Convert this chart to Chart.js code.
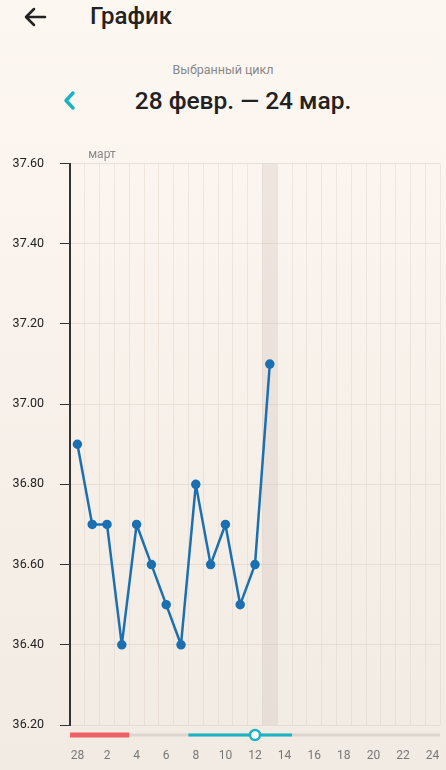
<!DOCTYPE html>
<html lang="ru">
<head>
<meta charset="utf-8">
<script src="https://cdn.jsdelivr.net/npm/chart.js@4/dist/chart.umd.min.js"></script>
<style>
  html, body { margin: 0; padding: 0; }
  body {
    width: 446px; height: 770px; overflow: hidden; position: relative;
    font-family: Roboto, "Noto Sans", sans-serif;
    background: linear-gradient(#fdf7f2 0%, #fbf4ee 30%, #f6efe8 65%, #f2ebe4 100%);
  }
  .title { position: absolute; left: 90px; top: 2px; font-size: 24px; font-weight: 500; color: #222; }
  .sub { position: absolute; left: 0; width: 446px; top: 62px; text-align: center; font-size: 12.5px; color: #888; }
  .range { position: absolute; left: 20px; width: 446px; top: 86px; text-align: center; font-size: 24.5px; font-weight: 500; color: #222; }
  svg { position: absolute; left: 0; top: 0; }
  #wrap { position: absolute; left: 0; top: 140px; width: 446px; height: 630px; }
</style>
</head>
<body>
<svg width="446" height="130">
  <path d="M45 17 H26 M34 9 L26 17 L34 25" fill="none" stroke="#222" stroke-width="2.5" stroke-linecap="round" stroke-linejoin="round"/>
  <path d="M73 93 L66 100.5 L73 108" fill="none" stroke="#1ab3c4" stroke-width="3.5" stroke-linecap="round" stroke-linejoin="round"/>
</svg>
<div class="title">График</div>
<div class="sub">Выбранный цикл</div>
<div class="range">28 февр. — 24 мар.</div>
<div id="wrap"><canvas id="tempChart"></canvas></div>
<script>
// дни цикла 28 февр. - 24 мар.
var days = ["28", "1", "2", "3", "4", "5", "6", "7", "8", "9", "10", "11", "12",
  "13", "14", "15", "16", "17", "18", "19", "20", "21", "22", "23", "24"];
var temps = [36.9, 36.7, 36.7, 36.4, 36.7, 36.6, 36.5, 36.4, 36.8, 36.6, 36.7, 36.5, 36.6, 37.1];
var yTicks = [36.2, 36.4, 36.6, 36.8, 37.0, 37.2, 37.4, 37.6];
var periodDays = ["28", "1", "2", "3"];
var fertileDays = ["8", "9", "10", "11", "12", "13", "14"];
var ovulationDay = "12";
var todayDay = "13";
var monthLabel = "март";

var extras = {
  id: "extras",
  beforeDatasetsDraw: function(chart) {
    var ctx = chart.ctx;
    var x = chart.scales.x;
    var area = chart.chartArea;
    var w = x.getPixelForValue(1) - x.getPixelForValue(0);
    var cx = x.getPixelForValue(days.indexOf(todayDay));
    ctx.save();
    ctx.fillStyle = "rgba(200,188,178,0.28)";
    ctx.fillRect(cx - w / 2, area.top, w, area.bottom - area.top);
    ctx.restore();
  },
  afterDraw: function(chart) {
    var ctx = chart.ctx;
    var x = chart.scales.x;
    var area = chart.chartArea;
    var w = x.getPixelForValue(1) - x.getPixelForValue(0);
    var y = area.bottom + 10;
    function px(d) { return x.getPixelForValue(days.indexOf(d)); }
    ctx.save();
    ctx.lineCap = "butt";
    // серая дорожка
    ctx.strokeStyle = "#ddd5ce";
    ctx.lineWidth = 3;
    ctx.beginPath();
    ctx.moveTo(area.left, y);
    ctx.lineTo(area.right, y);
    ctx.stroke();
    // месячные
    ctx.strokeStyle = "#ee6065";
    ctx.lineWidth = 5;
    ctx.beginPath();
    ctx.moveTo(px(periodDays[0]) - w / 2, y);
    ctx.lineTo(px(periodDays[periodDays.length - 1]) + w / 2, y);
    ctx.stroke();
    // фертильное окно
    ctx.strokeStyle = "#1ab3c4";
    ctx.lineWidth = 3;
    ctx.beginPath();
    ctx.moveTo(px(fertileDays[0]) - w / 2, y);
    ctx.lineTo(px(fertileDays[fertileDays.length - 1]) + w / 2, y);
    ctx.stroke();
    // овуляция
    ctx.fillStyle = "#ffffff";
    ctx.lineWidth = 2.5;
    ctx.beginPath();
    ctx.arc(px(ovulationDay), y, 5, 0, Math.PI * 2);
    ctx.fill();
    ctx.stroke();
    // месяц
    ctx.fillStyle = "#888";
    ctx.font = "12px Roboto";
    ctx.textAlign = "left";
    ctx.textBaseline = "middle";
    ctx.fillText(monthLabel, px("1") - 4, area.top - 9);
    ctx.restore();
  }
};

var ctx = document.getElementById("tempChart").getContext("2d");
var tempChart = new Chart(ctx, {
  type: "line",
  data: {
    labels: days,
    datasets: [{
      data: temps,
      borderColor: "#1c6fb1",
      backgroundColor: "#1c6fb1",
      borderWidth: 2.5,
      borderJoinStyle: "round",
      pointRadius: 3.5,
      pointHoverRadius: 3.5,
      tension: 0
    }]
  },
  options: {
    responsive: true,
    maintainAspectRatio: false,
    animation: false,
    layout: { padding: { top: 20, right: 5, left: 0, bottom: 0 } },
    plugins: { legend: { display: false }, tooltip: { enabled: false } },
    scales: {
      x: {
        offset: true,
        grid: { offset: true, color: "rgba(215,200,190,0.35)", drawTicks: true, tickLength: 22, tickColor: "rgba(0,0,0,0)" },
        border: { display: false },
        ticks: {
          autoSkip: false,
          maxRotation: 0,
          padding: 2,
          color: "#777",
          font: { family: "Roboto", size: 12 },
          callback: function(v, i) { return i % 2 === 0 ? days[i] : ""; }
        },
        afterFit: function(s) { s.height = 45; }
      },
      y: {
        min: 36.2,
        max: 37.6,
        afterBuildTicks: function(s) { s.ticks = yTicks.map(function(v) { return { value: v }; }); },
        grid: { color: "rgba(215,200,190,0.45)", tickColor: "#333", tickLength: 10 },
        border: { display: true, color: "#333", width: 2 },
        ticks: {
          padding: 16,
          color: "#222",
          font: { family: "Roboto", size: 12.5 },
          callback: function(v) { return Number(v).toFixed(2); }
        },
        afterFit: function(s) { s.width = 70; }
      }
    }
  },
  plugins: [extras]
});
</script>
</body>
</html>
